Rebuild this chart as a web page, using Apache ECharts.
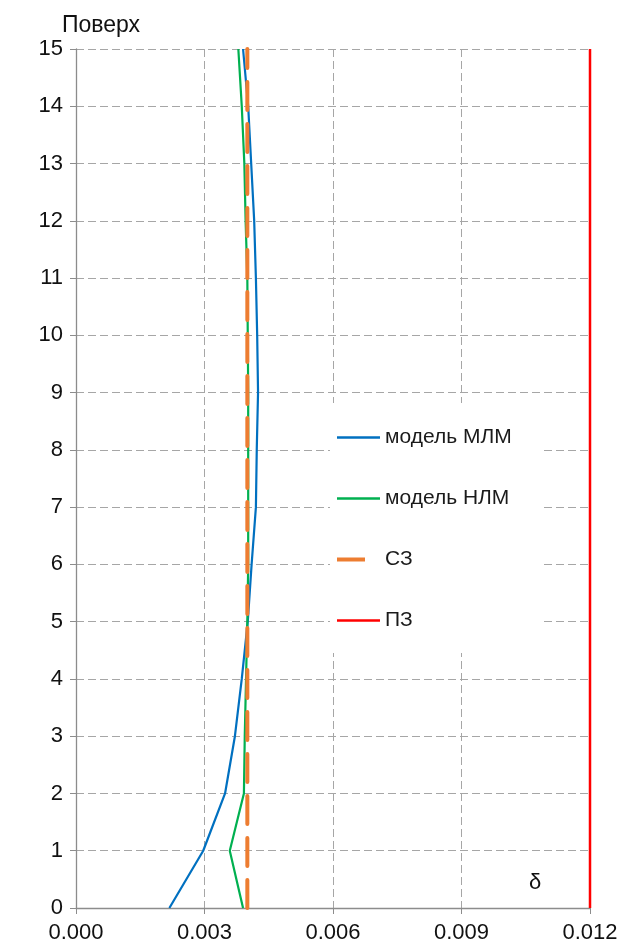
<!DOCTYPE html>
<html>
<head>
<meta charset="utf-8">
<script src="https://cdn.jsdelivr.net/npm/echarts@6/dist/echarts.min.js"></script>
<style>
  html, body { margin: 0; padding: 0; background: #fff; }
  #chart { width: 621px; height: 946px; }
</style>
</head>
<body>
<div id="chart"></div>
<script>
// Storey drift ratios along the building height
const floors = [0, 1, 2, 3, 4, 5, 6, 7, 8, 9, 10, 11, 12, 13, 14, 15];
const driftMLM = [0.00218, 0.00297, 0.00348, 0.00371, 0.00387, 0.00401, 0.0041, 0.0042, 0.00422, 0.00425, 0.00423, 0.0042, 0.00416, 0.00409, 0.00402, 0.0039];
const driftNLM = [0.0039, 0.00359, 0.00392, 0.00394, 0.00397, 0.004, 0.00402, 0.00402, 0.00402, 0.00402, 0.00401, 0.004, 0.00396, 0.00393, 0.00387, 0.00379];
// Limit lines: serviceability (СЗ) and ultimate (ПЗ)
const limitSZ = [0.004, 0.004];
const limitPZ = [0.012, 0.012];
const limitFloors = [0, 15];
const xTicks = { min: 0, max: 0.012, step: 0.003 };
const seriesNames = ['модель МЛМ', 'модель НЛМ', 'СЗ', 'ПЗ'];

const pairs = (xs, ys) => xs.map((x, i) => [x, ys[i]]);

const font = 'Arial, "Liberation Sans", sans-serif';
const gridLine = { show: true, lineStyle: { color: '#a6a6a6', type: [8, 4], width: 1 } };

// Legend swatches: a full-width solid stroke, and one dash for the dashed limit
const solidIcon = 'path://M0 0M0 4M0 0.75H43V3.25H0Z';
const dashIcon = 'path://M43 0M0 0H28V4H0Z';

const chart = echarts.init(document.getElementById('chart'));
chart.setOption({
  animation: false,
  backgroundColor: '#fff',
  grid: { left: 76, right: 31, top: 49, bottom: 38 },
  xAxis: {
    type: 'value',
    min: xTicks.min, max: xTicks.max, interval: xTicks.step,
    axisLine: { show: true, lineStyle: { color: '#8c8c8c', width: 1.3 } },
    axisTick: { show: true, length: 6, lineStyle: { color: '#8c8c8c' } },
    axisLabel: { color: '#111', fontSize: 22, fontFamily: font, margin: 14,
      formatter: v => v.toFixed(3) },
    splitLine: gridLine
  },
  yAxis: {
    type: 'value',
    min: 0, max: 15, interval: 1,
    axisLine: { show: true, lineStyle: { color: '#8c8c8c', width: 1.3 } },
    axisTick: { show: true, length: 6, lineStyle: { color: '#8c8c8c' } },
    axisLabel: { color: '#111', fontSize: 22, fontFamily: font, margin: 13 },
    splitLine: gridLine
  },
  legend: {
    orient: 'vertical',
    left: 330, top: 403,
    padding: [24, 30, 22, 7],
    backgroundColor: '#fff',
    itemWidth: 43, itemHeight: 4, itemGap: 40,
    symbolKeepAspect: false,
    textStyle: { color: '#1a1a1a', fontSize: 21, fontFamily: font },
    data: [
      { name: seriesNames[0], icon: solidIcon },
      { name: seriesNames[1], icon: solidIcon },
      { name: seriesNames[2], icon: dashIcon },
      { name: seriesNames[3], icon: solidIcon }
    ]
  },
  graphic: [
    { type: 'text', left: 62, top: 14,
      style: { text: 'Поверх', fontSize: 23, fontFamily: font, fill: '#111' } },
    { type: 'text', left: 529, top: 872,
      style: { text: 'δ', fontSize: 22, fontFamily: font, fill: '#111' } }
  ],
  series: [
    { name: seriesNames[0], type: 'line', data: pairs(driftMLM, floors), symbol: 'none',
      lineStyle: { color: '#0070C0', width: 2.2 }, itemStyle: { color: '#0070C0' } },
    { name: seriesNames[1], type: 'line', data: pairs(driftNLM, floors), symbol: 'none',
      lineStyle: { color: '#00B050', width: 2.2 }, itemStyle: { color: '#00B050' } },
    { name: seriesNames[2], type: 'line', data: pairs(limitSZ, limitFloors), symbol: 'none',
      lineStyle: { color: '#ED7D31', width: 4, type: [28, 14], cap: 'round' }, itemStyle: { color: '#ED7D31' } },
    { name: seriesNames[3], type: 'line', data: pairs(limitPZ, limitFloors), symbol: 'none',
      lineStyle: { color: '#FF0000', width: 2.5 }, itemStyle: { color: '#FF0000' } }
  ]
});
</script>
</body>
</html>
